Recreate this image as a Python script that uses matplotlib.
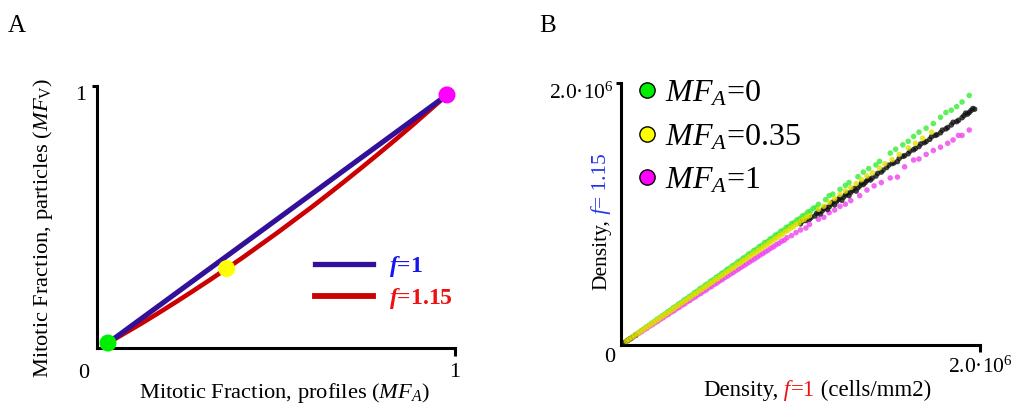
import matplotlib
matplotlib.use('Agg')
import matplotlib.pyplot as plt
from matplotlib.lines import Line2D

plt.rcParams['font.family'] = ['Liberation Serif', 'DejaVu Sans']
plt.rcParams['mathtext.fontset'] = 'custom'
plt.rcParams['mathtext.rm'] = 'Liberation Serif'
plt.rcParams['mathtext.it'] = 'Liberation Serif:italic'
plt.rcParams['mathtext.bf'] = 'Liberation Serif:bold'
plt.rcParams['mathtext.bfit'] = 'Liberation Serif:italic:bold'

# ---------------- Panel A data ----------------
mf_a = [0.0, 0.05, 0.1, 0.15, 0.2, 0.25, 0.3, 0.35, 0.4, 0.45, 0.5, 0.55, 0.6, 0.65,
        0.7, 0.75, 0.8, 0.85, 0.9, 0.95, 1.0]
mfv_f1 = [0.0, 0.05, 0.1, 0.15, 0.2, 0.25, 0.3, 0.35, 0.4, 0.45, 0.5, 0.55, 0.6, 0.65,
          0.7, 0.75, 0.8, 0.85, 0.9, 0.95, 1.0]
mfv_f115 = [0.0, 0.040, 0.080, 0.122, 0.165, 0.209, 0.254, 0.300, 0.347, 0.396, 0.445,
            0.496, 0.547, 0.600, 0.654, 0.709, 0.765, 0.822, 0.880, 0.940, 1.0]
dot_x = [0.0, 0.35, 1.0]
dot_y = [0.0, 0.30, 1.0]
dot_colors = ['#00ee00', '#ffff00', '#ff00ff']
legend_a_labels = [r'$\mathbfit{f}$=1', r'$\mathbfit{f}$=1.15']

# ---------------- Panel B data (cells/mm2, in units of 1e6) ----------------
green_x = [0.02, 0.05, 0.08, 0.11, 0.14, 0.17, 0.20, 0.23, 0.26, 0.29, 0.32, 0.35, 0.38, 0.41,
           0.44, 0.47, 0.50, 0.53, 0.56, 0.59, 0.62, 0.65, 0.68, 0.71, 0.74, 0.77, 0.80, 0.83,
           0.86, 0.89, 0.92, 0.95, 0.98, 1.01, 1.04, 1.07, 1.10, 1.14, 1.18, 1.22, 1.27, 1.32,
           1.38, 1.44, 1.50, 1.57, 1.63, 1.70, 1.78, 1.84, 1.90, 1.94,
           0.035, 0.065, 0.095, 0.125, 0.155, 0.185, 0.215, 0.245, 0.275, 0.305, 0.335, 0.365,
           0.395, 0.425, 0.455, 0.485, 0.515, 0.545, 0.575, 0.605, 0.635, 0.665, 0.695, 0.725,
           0.755, 0.785, 0.815, 0.845, 0.875, 0.905, 0.935, 0.965, 0.995, 1.025, 1.055, 1.085,
           1.16, 1.25, 1.35, 1.42, 1.53, 1.60, 1.66, 1.74, 1.81, 1.87]
green_y = [0.020, 0.049, 0.079, 0.107, 0.137, 0.166, 0.196, 0.224, 0.254, 0.283, 0.312, 0.342,
           0.370, 0.400, 0.430, 0.458, 0.488, 0.517, 0.546, 0.576, 0.604, 0.634, 0.663, 0.693,
           0.721, 0.751, 0.781, 0.809, 0.839, 0.868, 0.897, 0.927, 0.955, 0.985, 1.015, 1.043,
           1.074, 1.110, 1.152, 1.188, 1.240, 1.285, 1.347, 1.402, 1.465, 1.528, 1.592, 1.655,
           1.738, 1.792, 1.855, 1.905,
           0.034, 0.063, 0.092, 0.121, 0.150, 0.179, 0.208, 0.237, 0.266, 0.295, 0.324, 0.353,
           0.382, 0.411, 0.440, 0.469, 0.498, 0.528, 0.557, 0.586, 0.615, 0.644, 0.673, 0.702,
           0.731, 0.760, 0.789, 0.818, 0.847, 0.876, 0.905, 0.934, 0.963, 0.992, 1.021, 1.050,
           1.140, 1.218, 1.320, 1.375, 1.495, 1.555, 1.625, 1.690, 1.775, 1.820]
yellow_x = [0.03, 0.06, 0.09, 0.12, 0.15, 0.18, 0.21, 0.24, 0.27, 0.30, 0.33, 0.36, 0.39, 0.42,
            0.45, 0.48, 0.51, 0.54, 0.57, 0.60, 0.63, 0.66, 0.69, 0.72, 0.75, 0.78, 0.81, 0.84,
            0.87, 0.90, 0.93, 0.96, 0.99, 1.02, 1.05, 1.10, 1.16, 1.22, 1.28, 1.34, 1.40, 1.47,
            1.55, 1.60, 1.68,
            0.045, 0.075, 0.105, 0.135, 0.165, 0.195, 0.225, 0.255, 0.285, 0.315, 0.345, 0.375,
            0.405, 0.435, 0.465, 0.495, 0.525, 0.555, 0.585, 0.615, 0.645, 0.675, 0.705, 0.735,
            0.765, 0.795, 0.825, 0.855, 0.885, 0.915, 0.945, 0.975, 1.005, 1.035,
            1.13, 1.19, 1.25, 1.31, 1.37, 1.44, 1.51, 1.64, 1.73]
yellow_y = [0.028, 0.057, 0.085, 0.113, 0.141, 0.170, 0.198, 0.226, 0.254, 0.283, 0.311, 0.339,
            0.367, 0.395, 0.424, 0.451, 0.480, 0.508, 0.537, 0.565, 0.592, 0.621, 0.649, 0.678,
            0.705, 0.734, 0.762, 0.790, 0.819, 0.846, 0.875, 0.903, 0.931, 0.960, 0.987, 1.036,
            1.090, 1.149, 1.202, 1.262, 1.314, 1.383, 1.455, 1.505, 1.578,
            0.043, 0.071, 0.099, 0.128, 0.156, 0.184, 0.213, 0.241, 0.269, 0.298, 0.326, 0.354,
            0.383, 0.411, 0.439, 0.468, 0.496, 0.524, 0.553, 0.581, 0.610, 0.638, 0.666, 0.695,
            0.723, 0.751, 0.780, 0.808, 0.836, 0.865, 0.893, 0.921, 0.950, 0.978,
            1.060, 1.118, 1.175, 1.232, 1.290, 1.352, 1.415, 1.540, 1.625]
magenta_x = [0.04, 0.07, 0.10, 0.13, 0.16, 0.19, 0.22, 0.25, 0.28, 0.31, 0.34, 0.37, 0.40, 0.43,
             0.46, 0.49, 0.52, 0.55, 0.58, 0.61, 0.64, 0.67, 0.70, 0.73, 0.76, 0.79, 0.82, 0.85,
             0.88, 0.91, 0.95, 1.00, 1.05, 1.10, 1.16, 1.22, 1.28, 1.37, 1.45, 1.54, 1.63, 1.70,
             1.78, 1.85, 1.90, 1.94,
             0.055, 0.085, 0.115, 0.145, 0.175, 0.205, 0.235, 0.265, 0.295, 0.325, 0.355, 0.385,
             0.415, 0.445, 0.475, 0.505, 0.535, 0.565, 0.595, 0.625, 0.655, 0.685, 0.715, 0.745,
             0.775, 0.805, 0.835, 0.865, 0.895, 0.925, 0.975,
             1.03, 1.13, 1.19, 1.25, 1.33, 1.41, 1.50, 1.58, 1.66, 1.74, 1.82, 1.88]
magenta_y = [0.036, 0.063, 0.090, 0.117, 0.144, 0.170, 0.197, 0.224, 0.251, 0.277, 0.304, 0.331,
             0.357, 0.384, 0.410, 0.437, 0.463, 0.489, 0.516, 0.542, 0.568, 0.594, 0.620, 0.646,
             0.672, 0.698, 0.724, 0.750, 0.776, 0.801, 0.835, 0.878, 0.920, 0.960, 1.010, 1.058,
             1.102, 1.183, 1.240, 1.282, 1.412, 1.455, 1.510, 1.565, 1.600, 1.641,
             0.049, 0.075, 0.102, 0.128, 0.155, 0.181, 0.208, 0.235, 0.261, 0.288, 0.314, 0.341,
             0.367, 0.394, 0.420, 0.447, 0.473, 0.500, 0.527, 0.553, 0.580, 0.606, 0.633, 0.659,
             0.686, 0.712, 0.739, 0.766, 0.792, 0.819, 0.858,
             0.893, 0.975, 1.030, 1.075, 1.140, 1.215, 1.275, 1.360, 1.420, 1.485, 1.540, 1.600]
black_x = [0.02, 0.04, 0.06, 1.00, 1.03, 1.06, 1.08, 1.10, 1.12, 1.14, 1.16, 1.18, 1.20, 1.22,
           1.24, 1.26, 1.28, 1.30, 1.32, 1.34, 1.36, 1.38, 1.40, 1.43, 1.46, 1.49, 1.52, 1.55,
           1.58, 1.61, 1.64, 1.67, 1.70, 1.73, 1.76, 1.79, 1.82, 1.85, 1.88, 1.91, 1.93, 1.95,
           1.97,
           0.03, 0.05, 0.08, 1.01, 1.05, 1.09, 1.11, 1.13, 1.15, 1.17, 1.19, 1.21, 1.23, 1.25,
           1.27, 1.29, 1.31, 1.33, 1.35, 1.37, 1.39, 1.42, 1.45, 1.48, 1.51, 1.54, 1.57, 1.60,
           1.63, 1.66, 1.69, 1.72, 1.75, 1.78, 1.81, 1.84, 1.87, 1.90, 1.92, 1.94, 1.96]
black_y = [0.018, 0.037, 0.055, 0.925, 0.950, 0.975, 0.985, 1.015, 1.022, 1.050, 1.055, 1.090,
           1.095, 1.125, 1.128, 1.160, 1.165, 1.195, 1.200, 1.236, 1.240, 1.268, 1.275, 1.310,
           1.335, 1.372, 1.390, 1.425, 1.445, 1.480, 1.500, 1.535, 1.553, 1.590, 1.605, 1.640,
           1.660, 1.700, 1.715, 1.750, 1.762, 1.790, 1.800,
           0.027, 0.046, 0.073, 0.945, 0.960, 1.005, 1.000, 1.040, 1.035, 1.075, 1.070, 1.110,
           1.105, 1.145, 1.140, 1.180, 1.175, 1.215, 1.225, 1.255, 1.260, 1.290, 1.320, 1.355,
           1.385, 1.400, 1.440, 1.460, 1.490, 1.515, 1.545, 1.570, 1.600, 1.620, 1.650, 1.680,
           1.705, 1.735, 1.770, 1.775, 1.805]
legend_b_labels = [r'$MF_A$=0', r'$MF_A$=0.35', r'$MF_A$=1']
legend_b_colors = ['#00ee00', '#ffff00', '#ff00ff']

W, H = 1012, 405
fig = plt.figure(figsize=(W / 100, H / 100), dpi=100)


def fx(px):
    return px / W


def fy(py):
    return 1 - py / H


# ======================= Panel A =======================
axA = fig.add_axes([fx(97), fy(348), fx(455) - fx(97), fy(86) - fy(348)])
x_lo, x_hi = -0.0324, 1.0236
y_lo, y_hi = -0.020, 1.036
axA.set_xlim(x_lo, x_hi)
axA.set_ylim(y_lo, y_hi)
for s in ['top', 'right']:
    axA.spines[s].set_visible(False)
for s in ['left', 'bottom']:
    axA.spines[s].set_linewidth(2.2)

axA.plot(mf_a, mfv_f115, color='#cc0000', lw=3.3, solid_capstyle='butt', zorder=2)
axA.plot(mf_a, mfv_f1, color='#33109a', lw=3.7, solid_capstyle='butt', zorder=3)
axA.scatter(dot_x, dot_y, s=150, c=dot_colors, edgecolors='none', zorder=4, clip_on=False)

axA.set_xticks([x_hi])
axA.set_xticklabels(['1'])
axA.set_yticks([y_hi])
axA.set_yticklabels(['1'])
axA.tick_params(axis='x', length=5.5, width=2.2, pad=5, labelsize=16)
axA.tick_params(axis='y', length=3.5, width=2.2, pad=4, labelsize=16)
for lab in axA.get_yticklabels():
    lab.set_va('top')
fig.text(fx(84), fy(373), '0', fontsize=16, ha='center', va='center')

h_blue = Line2D([], [], color='#33109a', lw=3.8)
h_red = Line2D([], [], color='#cc0000', lw=4.2)
legA = axA.legend([h_blue, h_red], legend_a_labels, loc='upper left',
                  bbox_to_anchor=(fx(315), fy(254)), bbox_transform=fig.transFigure,
                  frameon=False, borderpad=0, borderaxespad=0, handlelength=2.45,
                  handletextpad=0.7, labelspacing=0.3,
                  prop={'weight': 'bold', 'size': 17})
legA.get_texts()[0].set_color('#1515ee')
legA.get_texts()[1].set_color('#ee1111')

fig.text(fx(285), fy(393), r'Mitotic Fraction, profiles ($MF_A$)', fontsize=16.2,
         ha='center', va='center')
fig.text(fx(43), fy(228), r'Mitotic Fraction, particles ($MF_{\mathrm{V}}$)', fontsize=16.2,
         ha='center', va='center', rotation=90)
fig.text(fx(8), fy(32), 'A', fontsize=18, ha='left', va='baseline')

# ======================= Panel B =======================
axB = fig.add_axes([fx(621), fy(345), fx(980) - fx(621), fy(83) - fy(345)])
axB.set_xlim(0, 2.0)
axB.set_ylim(0, 2.0)
for s in ['top', 'right']:
    axB.spines[s].set_visible(False)
for s in ['left', 'bottom']:
    axB.spines[s].set_linewidth(2.2)

kw = dict(s=16, edgecolors='none', alpha=0.8)
axB.scatter(green_x, green_y, c='#33ee33', zorder=2, **kw)
axB.scatter(magenta_x, magenta_y, c='#ee44ee', zorder=2, **kw)
axB.scatter(black_x, black_y, c='#111111', zorder=3, **kw)
axB.scatter(yellow_x, yellow_y, c='#e0e000', zorder=4, **kw)

big = r'2.0·10$^{6}$'
axB.set_xticks([2.0])
axB.set_xticklabels([big])
axB.set_yticks([2.0])
axB.set_yticklabels([big])
axB.tick_params(axis='x', length=5, width=2.2, pad=3, labelsize=15.5)
axB.tick_params(axis='y', length=3.5, width=2.2, pad=2, labelsize=15.5)
for lab in axB.get_yticklabels():
    lab.set_va('top')
fig.text(fx(610), fy(358), '0', fontsize=16, ha='center', va='center')

hB = [Line2D([], [], ls='none', marker='o', markersize=11, markerfacecolor=c,
             markeredgecolor='black', markeredgewidth=1.0) for c in legend_b_colors]
legB = axB.legend(hB, legend_b_labels, loc='upper left',
                  bbox_to_anchor=(fx(637), fy(79)), bbox_transform=fig.transFigure,
                  frameon=False, borderpad=0, borderaxespad=0, handlelength=0.6,
                  handletextpad=0.27, labelspacing=0.44, prop={'size': 23})

# multi-coloured axis labels
labx_fs = 16.5
t1 = fig.text(fx(703), fy(396), 'Density,', fontsize=labx_fs, ha='left', va='baseline')
ta = axB.annotate(' f', xycoords=t1, xy=(1, 0), va='bottom', ha='left',
                  fontsize=labx_fs, color='#ee1111', style='italic')
tb = axB.annotate('=1', xycoords=ta, xy=(1, 0), va='bottom', ha='left',
                  fontsize=labx_fs, color='#ee1111')
tc = axB.annotate(' (cells/mm2)', xycoords=tb, xy=(1, 0), va='bottom', ha='left',
                  fontsize=labx_fs)

laby_fs = 15.5
r1 = fig.text(fx(602), fy(290), 'Density,', fontsize=laby_fs, ha='center', va='bottom',
              rotation=90)
ra = axB.annotate(' f', xycoords=r1, xy=(1, 1), va='bottom', ha='right', rotation=90,
                  fontsize=laby_fs, color='#2233ee', style='italic')
rb = axB.annotate('= 1.15', xycoords=ra, xy=(1, 1), va='bottom', ha='right', rotation=90,
                  fontsize=laby_fs, color='#2233ee')

fig.text(fx(539), fy(32), 'B', fontsize=18, ha='left', va='baseline')

fig.savefig('out.png', dpi=100)
